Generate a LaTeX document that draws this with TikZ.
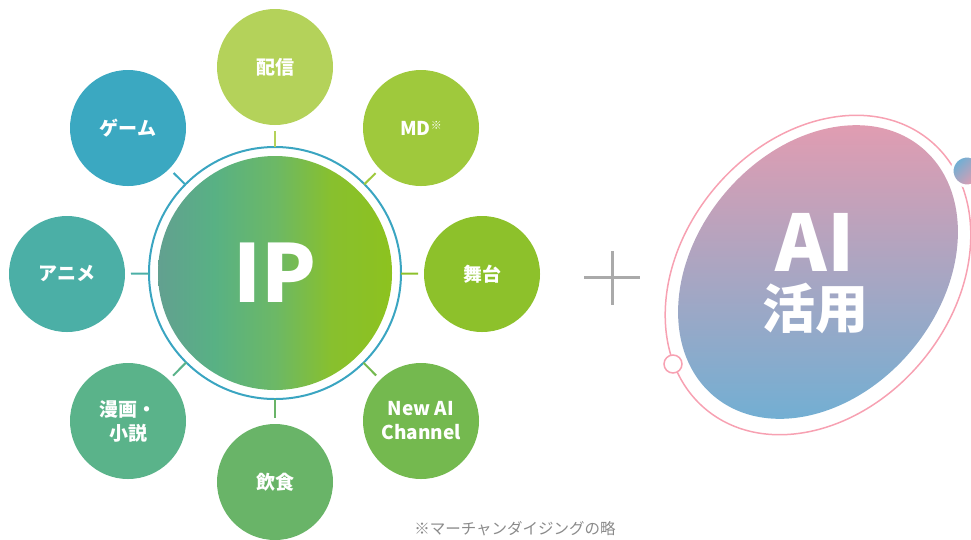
\documentclass[tikz,border=0pt]{standalone}
\usepackage{fontspec}
\setmainfont{Noto Sans CJK JP}
\usetikzlibrary{calc}
\definecolor{c1}{HTML}{B4D25A}
\definecolor{c2}{HTML}{9FC93C}
\definecolor{c3}{HTML}{8DC12B}
\definecolor{c4}{HTML}{74B94F}
\definecolor{c5}{HTML}{69B468}
\definecolor{c6}{HTML}{5AB38A}
\definecolor{c7}{HTML}{4BAFA6}
\definecolor{c8}{HTML}{3BA8C1}
\definecolor{ringc}{HTML}{3AA5C1}
\definecolor{ipA}{HTML}{62A090}
\definecolor{ipB}{HTML}{58B184}
\definecolor{ipC}{HTML}{6CB866}
\definecolor{ipD}{HTML}{88C02E}
\definecolor{ipE}{HTML}{8DC21F}
\definecolor{aiT}{HTML}{E89BAF}
\definecolor{aiM}{HTML}{A9A5C1}
\definecolor{aiB}{HTML}{6BB0D5}
\definecolor{pinkring}{HTML}{F7A1B2}
\definecolor{plusgray}{HTML}{AAAAAA}
\definecolor{notegray}{HTML}{8A8A8A}
\pgfdeclarehorizontalshading{ipshade}{100bp}{color(0bp)=(ipA); color(25bp)=(ipA); color(37bp)=(ipB); color(50bp)=(ipC); color(62bp)=(ipD); color(75bp)=(ipE); color(100bp)=(ipE)}
\tikzset{
  sat/.style={circle, minimum size=116pt, inner sep=0pt, text=white, align=center,
    font=\bfseries\fontsize{19}{24}\selectfont},
  conn/.style={line width=2pt},
}
\begin{document}
\begin{tikzpicture}[x=1pt,y=-1pt]
\useasboundingbox (0,0) rectangle (971,539);
% central IP
\node[circle, minimum size=234pt, inner sep=0pt, shade, shading=ipshade, text=white,
  font=\bfseries\fontsize{80}{80}\selectfont] (ip) at (275,273) {IP};
\draw[ringc, line width=2pt] (ip.center) circle [radius=126];
% satellites
\node[sat, fill=c1] (s1) at (275,67) {配信};
\node[sat, fill=c2] (s2) at (421,128) {MD\raisebox{0.3em}{\fontsize{11}{11}\selectfont ※}};
\node[sat, fill=c3] (s3) at (482,274) {舞台};
\node[sat, fill=c4] (s4) at (421,421) {New AI\\Channel};
\node[sat, fill=c5] (s5) at (275,482) {飲食};
\node[sat, fill=c6] (s6) at (128,421) {漫画・\\小説};
\node[sat, fill=c7] (s7) at (67,274) {アニメ};
\node[sat, fill=c8] (s8) at (128,128) {ゲーム};
\foreach \s/\c in {s1/c1,s2/c2,s3/c3,s4/c4,s5/c5,s6/c6,s7/c7,s8/c8}{
  \draw[conn, \c] ($(ip.center)!126pt!(\s.center)$) -- ($(\s.center)!64pt!(ip.center)$);
}
% plus sign
\coordinate (plus) at (612,277);
\draw[plusgray, line width=3pt] ($(plus)+(-28,0)$) -- ($(plus)+(28,0)$);
\draw[plusgray, line width=3pt] ($(plus)+(0,-26)$) -- ($(plus)+(0,28)$);
% AI ellipse
\coordinate (ai) at (818,272);
\draw[pinkring, line width=1.5pt, rotate around={50:(818,275)}] (818,275) ellipse [x radius=175, y radius=135];
\path[rotate around={50:(ai)}, top color=aiT, middle color=aiM, bottom color=aiB, shading angle=0]
  (ai) ellipse [x radius=162, y radius=122];
\node[text=white, font=\bfseries\fontsize{78}{78}\selectfont] (aitext) at (815,242) {AI};
\node[text=white, font=\bfseries\fontsize{53}{53}\selectfont] (katsuyou) at (815,308) {活用};
% small circles
\node[circle, minimum size=18pt, inner sep=0pt, draw=pinkring, line width=1.5pt, fill=white] (dotL) at (673,364) {};
\node[circle, minimum size=30pt, inner sep=0pt, draw=white, line width=3pt, top color=aiB, bottom color=aiT, shading angle=45] (dotR) at (967,171) {};
% footnote
\node[text=notegray, font=\fontsize{15.5}{16}\selectfont] (note) at (515,529) {※マーチャンダイジングの略};
\end{tikzpicture}
\end{document}
